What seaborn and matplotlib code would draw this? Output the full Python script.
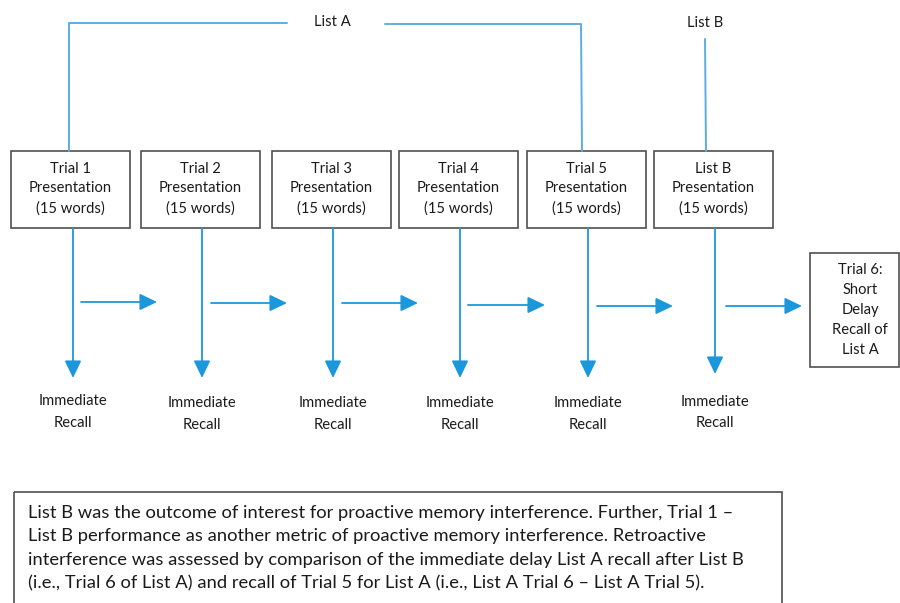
import matplotlib
matplotlib.use("Agg")
import matplotlib.pyplot as plt
from matplotlib.patches import Rectangle, FancyArrowPatch
import seaborn as sns
import pandas as pd

# ---- content ----
box_labels = [
    "Trial 1\nPresentation\n(15 words)",
    "Trial 2\nPresentation\n(15 words)",
    "Trial 3\nPresentation\n(15 words)",
    "Trial 4\nPresentation\n(15 words)",
    "Trial 5\nPresentation\n(15 words)",
    "List B\nPresentation\n(15 words)",
]
recall_label = "Immediate\nRecall"
final_label = "Trial 6:\nShort\nDelay\nRecall of\nList A"
list_a_label = "List A"
list_b_label = "List B"
note_lines = [
    "List B was the outcome of interest for proactive memory interference. Further, Trial 1 \u2013",
    "List B performance as another metric of proactive memory interference. Retroactive",
    "interference was assessed by comparison of the immediate delay List A recall after List B",
    "(i.e., Trial 6 of List A) and recall of Trial 5 for List A (i.e., List A Trial 6 \u2013 List A Trial 5).",
]

# ---- layout (pixels, y down) ----
box_left = [11, 141, 272, 399, 527, 654]
box_w = 119
box_top, box_bot = 151, 228
arrow_x = [73, 202, 333, 460, 588, 715]
arrow_tip = [378, 378, 378, 378, 378, 374]
recall_y = [412, 414, 414, 414, 414, 412.5]
h_start = [81, 211, 342, 468, 597, 726]
h_end = [157, 287, 418, 545, 673, 802]
h_y = [302, 303, 303, 305, 306, 306]

sns.set_theme(style="white")
plt.rcParams['font.family'] = ['Lato', 'DejaVu Sans']

fig = plt.figure(figsize=(9, 6.03), dpi=100)
ax = fig.add_axes([0, 0, 1, 1])

line_c = "#5aaee6"
arrow_c = "#1a98db"
edge_c = "#505050"
txt_c = "#1a1a1a"
fs = 10.6

# connector lines via seaborn
conn = pd.DataFrame({
    "x": [69, 69, 287, 385, 581, 582, 705, 706],
    "y": [151, 23, 23, 24, 24, 151, 39, 151],
    "seg": [0, 0, 0, 1, 1, 1, 2, 2],
})
sns.lineplot(data=conn, x="x", y="y", units="seg", estimator=None, sort=False,
             color=line_c, lw=1.4, ax=ax, legend=False)
ax.set_xlim(0, 900)
ax.set_ylim(603, 0)
ax.axis("off")

ax.text(332, 22, list_a_label, ha="center", va="center", fontsize=fs, color=txt_c)
ax.text(705, 23, list_b_label, ha="center", va="center", fontsize=fs, color=txt_c)

for i, lab in enumerate(box_labels):
    ax.add_patch(Rectangle((box_left[i], box_top), box_w, box_bot - box_top,
                           fill=False, ec=edge_c, lw=1.2))
    ax.text(box_left[i] + box_w / 2, 188.5, lab, ha="center", va="center",
            fontsize=fs, color=txt_c, linespacing=1.5)
    # vertical arrow
    ax.add_patch(FancyArrowPatch((arrow_x[i], box_bot), (arrow_x[i], arrow_tip[i]),
                                 arrowstyle="-|>,head_length=0.75,head_width=0.36",
                                 mutation_scale=14, color=arrow_c, lw=1.3,
                                 shrinkA=0, shrinkB=0))
    ax.text(arrow_x[i], recall_y[i], recall_label, ha="center", va="center",
            fontsize=fs, color=txt_c, linespacing=1.7)
    # horizontal arrow
    ax.add_patch(FancyArrowPatch((h_start[i], h_y[i]), (h_end[i], h_y[i]),
                                 arrowstyle="-|>,head_length=0.75,head_width=0.36",
                                 mutation_scale=14, color=arrow_c, lw=1.3,
                                 shrinkA=0, shrinkB=0))

# final box
ax.add_patch(Rectangle((810, 253), 89, 114, fill=False, ec=edge_c, lw=1.2))
ax.text(860, 310, final_label, ha="center", va="center", fontsize=fs,
        color=txt_c, linespacing=1.53)

# note box
ax.add_patch(Rectangle((14, 492), 768, 130, fill=False, ec=edge_c, lw=1.2,
                       clip_on=True))
for k, line in enumerate(note_lines):
    ax.text(28, 513 + k * 23.3, line, ha="left", va="center", fontsize=13.2,
            color=txt_c)

fig.savefig("out.png", dpi=100, facecolor="white")
